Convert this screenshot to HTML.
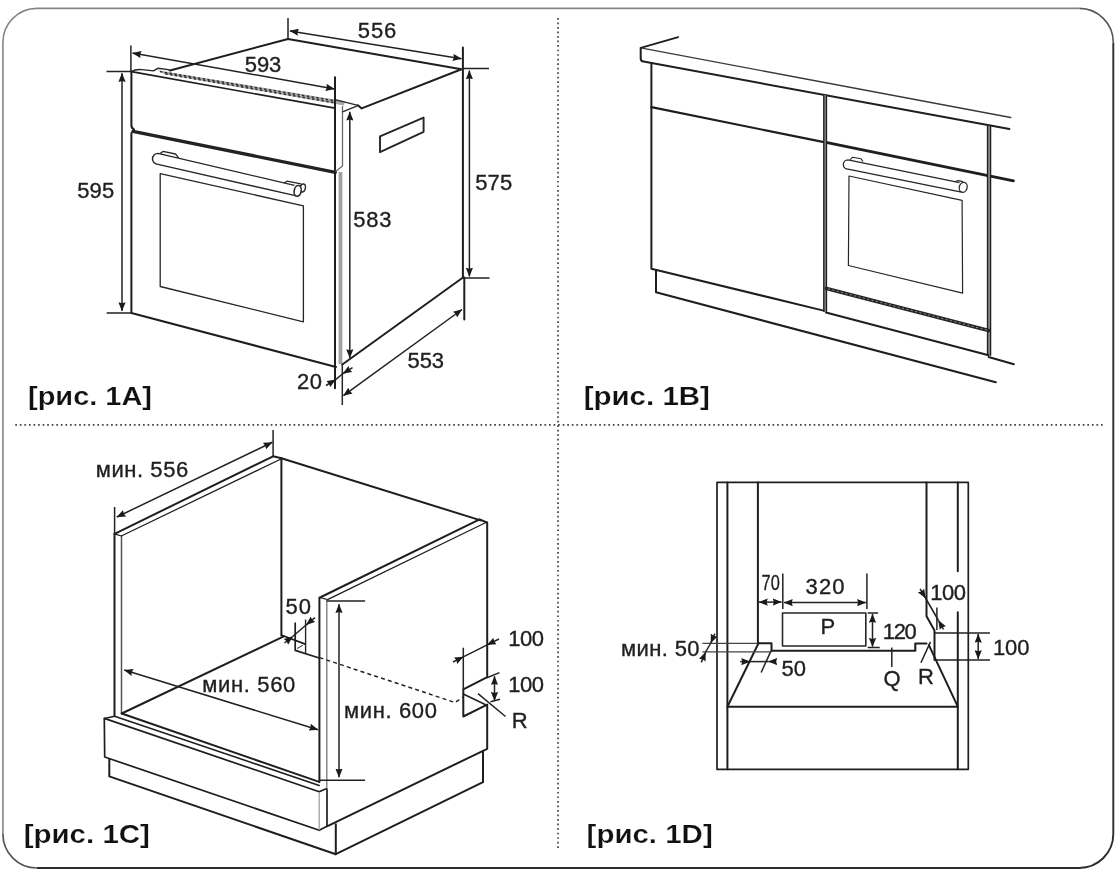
<!DOCTYPE html>
<html><head><meta charset="utf-8"><style>
html,body{margin:0;padding:0;background:#fff;width:1120px;height:872px;overflow:hidden}
svg{display:block;will-change:transform}
text{font-family:"Liberation Sans",sans-serif;fill:#1e1e1e}
.l{stroke:#1e1e1e;stroke-width:2.0;fill:none;stroke-linecap:round;stroke-linejoin:round}
.t{stroke:#262626;stroke-width:1.5;fill:none;stroke-linejoin:round}
.d{stroke:#222;stroke-width:1.5;fill:none}
.lab{font-weight:bold;font-size:26px;fill:#111;stroke:#fff;stroke-width:0.22px}
.n{font-size:22px;stroke:#222;stroke-width:0.35px}
</style></head><body>
<svg width="1120" height="872" viewBox="0 0 1120 872">
<defs>
<marker id="a" viewBox="0 0 9 7.4" refX="8.7" refY="3.7" markerWidth="9" markerHeight="7.4" markerUnits="userSpaceOnUse" orient="auto-start-reverse">
<path d="M0,0.1 L9,3.7 L0,7.3 L1.0,3.7 z" fill="#1a1a1a"/>
</marker>
<marker id="s" viewBox="0 0 6 5" refX="5.7" refY="2.5" markerWidth="6" markerHeight="5" markerUnits="userSpaceOnUse" orient="auto-start-reverse">
<path d="M0,0.2 L6,2.5 L0,4.8 L1,2.5 z" fill="#1e1e1e"/>
</marker>
</defs>
<!-- frame -->
<path d="M2.9,834 L2.9,42.4 A34,34 0 0 1 36.9,8.4 L1079.3,8.4" fill="none" stroke="#858585" stroke-width="1.6"/>
<path d="M1079.3,8.4 A34,34 0 0 1 1113.3,42.4" fill="none" stroke="#555" stroke-width="1.6"/>
<path d="M1113.3,42.4 L1113.3,834 A34,34 0 0 1 1079.3,868 L36.9,868" fill="none" stroke="#2d2d2d" stroke-width="1.9"/>
<path d="M36.9,868 A34,34 0 0 1 2.9,834" fill="none" stroke="#555" stroke-width="1.7"/>
<line x1="15.25" y1="424.8" x2="1103" y2="424.8" stroke="#444" stroke-width="1.7" stroke-dasharray="1.7 2.862"/>
<line x1="558" y1="17.95" x2="558" y2="848.5" stroke="#444" stroke-width="1.7" stroke-dasharray="1.7 2.826"/>
<!-- labels -->
<text class="lab" x="28" y="404.7" textLength="124" lengthAdjust="spacingAndGlyphs">[рис. 1A]</text>
<text class="lab" x="583.7" y="404.7" textLength="126.2" lengthAdjust="spacingAndGlyphs">[рис. 1B]</text>
<text class="lab" x="23.7" y="842.6" textLength="126.2" lengthAdjust="spacingAndGlyphs">[рис. 1C]</text>
<text class="lab" x="586.6" y="842.6" textLength="126.1" lengthAdjust="spacingAndGlyphs">[рис. 1D]</text>
<g id="f1a">
<!-- top surface -->
<path class="l" d="M170,70.5 L288,39 L461.5,69.2 L361.6,108.4 L358,105.3"/>
<!-- vent strip -->
<path style="stroke-width:1.4" class="t" d="M131.4,71.8 C134,69.8 138,69.3 142,69.6 L153.4,70.9 L157.9,68.3 L168,69.6 L170,70.5"/>
<path d="M157,70.3 L345,101.2 L344,105.6 L165,74.3 Z" fill="#a8a8a8"/>
<path style="stroke-width:1.3" class="t" d="M334,99.3 L358,105.3"/>
<path style="stroke-width:1.5;stroke:#2e2e2e" class="t" d="M160,71.6 L334.5,100.7" stroke-dasharray="2.4 2.4"/>
<path style="stroke-width:1.5;stroke:#2e2e2e" class="t" d="M163,73.4 L335.5,102.9" stroke-dasharray="2.4 2.4" stroke-dashoffset="2.4"/>
<!-- control panel -->
<path style="stroke-width:1.7" class="l" d="M131.4,71.6 L335,108.2"/>
<path class="l" d="M131.4,71.6 L131.4,125 Q131.4,128.5 134,129.5"/>
<path style="stroke-width:3.3;stroke:#222" class="l" d="M133,131.3 L335.3,172.3"/>
<!-- door -->
<path class="l" d="M131.4,133 L131.4,313 L336,367"/>
<path class="l" d="M335,77.3 L335,388.3"/>
<!-- side frame strip -->
<path style="stroke-width:1.3;stroke:#6a6a6a" class="t" d="M342.5,106 L342.5,166 L335.5,171.5"/>
<rect x="338.6" y="172" width="3.8" height="192" fill="#a0a0a0"/>
<path style="stroke-width:1.5" class="t" d="M342.3,364 L342.3,405"/>
<path style="stroke-width:1.3" class="t" d="M342.5,111.8 L358,105.7"/>
<!-- handle -->
<path style="stroke-width:1.4" class="t" d="M158,153.4 L294.5,185.4 M158,164.4 L296.5,195.9 M158,153.4 A5.5,5.5 0 0 0 158,164.4"/>
<path style="stroke-width:1.3" class="t" d="M160,153.6 L163,151.4 L175.5,154 L178.7,157.8"/>
<path style="stroke-width:1.2" class="t" d="M284,182.9 L287,181.2 L301,183.8"/>
<ellipse cx="302.8" cy="188" rx="2.6" ry="4" transform="rotate(10 302.8 188)" fill="#fff" stroke="#2a2a2a" stroke-width="1.4"/>
<ellipse cx="297.7" cy="190.9" rx="3.5" ry="5.4" transform="rotate(10 297.7 190.9)" fill="#fff" stroke="#2a2a2a" stroke-width="1.6"/>
<!-- window -->
<path style="stroke-width:1.3" class="t" d="M160.2,173.7 L303.4,205.8 L303.4,321.8 L160.2,286.5 Z"/>
<!-- side panel -->
<path class="l" d="M462.9,47.5 L462.9,277.5 M464.3,277.5 L464.3,319.4"/>
<path class="l" d="M463,277.5 L342.3,364.5"/>
<path style="stroke-width:1.9" class="t" d="M380,136.4 L423.6,117.6 L423.6,131.8 L380,152.2 Z"/>
<!-- 595 dim -->
<path class="d" d="M106.5,71.5 L131,71.5 M106.7,313 L131.9,313"/>
<path class="d" d="M122,73.2 L122,311" marker-start="url(#a)" marker-end="url(#a)"/>
<text class="n" x="77.2" y="197.5" textLength="37">595</text>
<!-- 593 dim -->
<path class="d" d="M130.9,45.6 L130.9,71.5"/>
<path class="d" d="M132.5,53 L334.5,88.9" marker-start="url(#a)" marker-end="url(#a)"/>
<text class="n" x="244.8" y="72" textLength="36.5">593</text>
<!-- 556 dim -->
<path class="d" d="M288,18.1 L288,39"/>
<path class="d" d="M289.8,30.9 L461.5,58.8" marker-start="url(#a)" marker-end="url(#a)"/>
<text class="n" x="357.8" y="37.5" textLength="38.5">556</text>
<!-- 575 dim -->
<path class="d" d="M463,68.4 L489,68.4 M463,278.1 L489.5,278.1"/>
<path class="d" d="M469.4,70.6 L469.4,276.4" marker-start="url(#a)" marker-end="url(#a)"/>
<text class="n" x="475.2" y="190.2" textLength="37">575</text>
<!-- 583 dim -->
<path class="d" d="M349.8,111.8 L349.8,358" marker-start="url(#a)" marker-end="url(#a)"/>
<text class="n" x="353.2" y="227.2" textLength="38.2">583</text>
<!-- 553 dim -->
<path class="d" d="M462,309.5 L343.4,395.6" marker-start="url(#a)" marker-end="url(#a)"/>
<text class="n" x="407.5" y="367.5" textLength="36.6">553</text>
<!-- 20 dim -->
<path class="d" d="M326,385.5 L335.6,379.6" marker-end="url(#a)"/>
<path class="d" d="M335.6,379.6 L343,373.5"/>
<path class="d" d="M352.5,367.7 L343,373.5" marker-end="url(#a)"/>
<text class="n" x="297" y="389" textLength="25">20</text>
</g>
<g id="f1b">
<!-- countertop -->
<path style="stroke-width:1.8" class="l" d="M678.2,37.1 L640.7,47.9"/>
<path style="stroke-width:1.4;stroke:#3a3a3a" class="l" d="M640.7,47.9 L1010.7,117.5"/>
<path class="l" d="M640.7,47.9 L640.7,58.5 Q640.7,61.2 643.5,61.6 L1009.4,129"/>
<!-- left cabinet -->
<path class="l" d="M651.4,63 L651.4,268.7 L824.6,310.9"/>
<path style="stroke-width:2.2" class="l" d="M651.4,107.1 L824,142.2"/>
<path style="stroke-width:2.8" class="l" d="M826,142.3 L1013.5,180.8"/>
<path class="l" d="M656,271 L656,292.3 L995.8,382.3"/>
<!-- dividers -->
<rect x="823.4" y="95" width="3.4" height="216" fill="#8a8a8a"/>
<path style="stroke-width:1.3" class="l" d="M823.8,95 L823.8,311.3 M826.5,95 L826.5,311.3"/>
<rect x="987.2" y="126" width="3.8" height="229" fill="#8a8a8a"/>
<path style="stroke-width:1.3" class="l" d="M987.5,126 L987.5,355.3 M990.6,126 L990.6,355.3"/>
<!-- oven -->
<path style="stroke-width:3.8;stroke:#262626" class="l" d="M826.5,288.5 L988.6,330.5" stroke-linecap="butt"/>
<path style="stroke-width:0.9;stroke:#9a9a9a" class="t" d="M828,288.9 L987,330.1" stroke-dasharray="2 2.5"/>
<path class="l" d="M826,312.5 L988.6,355.3"/>
<path class="l" d="M988.6,357 L1013.9,364.2"/>
<!-- handle -->
<path style="stroke-width:1.3" class="t" d="M848,159.9 L959.5,182.6 M848,169.2 L961.5,192.1 M848,159.9 A4.65,4.65 0 0 0 848,169.2"/>
<path style="stroke-width:1.1" class="t" d="M850,159.6 L852.5,157.3 L861,158.8 L863,161.5"/>
<path style="stroke-width:1.1" class="t" d="M955,181.8 L958,180.6 L963,181.6"/>
<ellipse cx="963.2" cy="187.3" rx="3.9" ry="5" transform="rotate(15 963.2 187.3)" fill="#fff" stroke="#262626" stroke-width="1.3"/>
<!-- window -->
<path style="stroke-width:1.2" class="t" d="M849,176 L962.1,200.4 L962.6,293.2 L848.4,265.5 Z"/>
</g>
<g id="f1c">
<!-- left wall -->
<path class="l" d="M114.5,533.8 L114.5,715.7"/>
<path style="stroke-width:1.5;stroke:#555" class="l" d="M121.5,536 L121.5,713.5"/>
<path class="l" d="M114.6,533.8 L273.1,456.3 L281.4,458.2"/>
<path style="stroke-width:1.25" class="l" d="M114.6,533.8 L121.3,536 L281,459"/>
<!-- back wall -->
<path class="l" d="M281.4,458.2 L281.4,635.4"/>
<path class="l" d="M281.4,458.2 L480.7,520.4"/>
<!-- right (front) wall -->
<path class="l" d="M320,597.5 L479.6,519.3 L486.8,522.5"/>
<path style="stroke-width:1.25" class="l" d="M320,597.5 L327.5,599.6 L486,522.5"/>
<path class="l" d="M319.4,597.7 L319.4,781.9"/>
<path style="stroke-width:1.3;stroke:#777" class="l" d="M326.8,600 L326.8,788.6"/>
<path class="l" d="M487.2,522.5 L487.2,677.1 L463.3,689.4 L463.3,716.5 L487.2,704.6 L487.2,748.8 L327,826.3"/>
<path style="stroke-width:1.5" class="l" d="M463.3,694 L487.2,705.5"/>
<!-- floor -->
<path class="l" d="M121.7,713.5 L283.8,636.4"/>
<path style="stroke-width:1.7" class="l" d="M281.7,635.2 L305.3,644.1"/>
<path style="stroke-width:1.7" class="l" d="M295.2,623.2 L295.2,650.4 L319.2,658"/>
<path style="stroke-width:1.4" class="t" d="M305.6,619.5 L305.6,652.9"/>
<path style="stroke-width:1" class="t" d="M297.1,648.5 L302.8,645.3"/>
<path class="l" d="M121.7,713.5 L319.2,781.9"/>
<!-- front board -->
<path style="stroke-width:1.5" class="l" d="M114.6,716.2 L319.2,785.5"/>
<path style="stroke-width:1.5" class="l" d="M104.3,718.4 L114.6,716.2"/>
<path style="stroke-width:1.7" class="l" d="M104.3,718.4 L319.2,791.7 L325.5,789 Q327,788.6 327,790 L327,826.3 L319.2,830.3 L104.7,757 L104.3,718.4"/>
<path style="stroke-width:1.2;stroke:#999" class="t" d="M319.2,792 L319.2,830"/>
<!-- plinth -->
<path class="l" d="M109.3,759 L109.3,776.4 L335.8,854.2 L483,782.2 L483,751.3"/>
<path class="l" d="M335.8,824.2 L335.8,854.2"/>
<!-- dims -->
<path class="d" d="M114.6,507 L114.6,533.8 M273.1,430 L273.1,456.3"/>
<path class="d" d="M116.8,517 L272.3,442.3" marker-start="url(#a)" marker-end="url(#a)"/>
<text class="n" x="95.7" y="476.8" textLength="92.5">мин. 556</text>
<path class="d" d="M124.3,670 L318,729.7" marker-start="url(#a)" marker-end="url(#a)"/>
<text class="n" x="202.3" y="692.3" textLength="93">мин. 560</text>
<path class="d" d="M326.6,600.9 L365.1,600.9 M319.4,780.3 L365.1,780.3"/>
<path class="d" d="M339,604.2 L339,777.3" marker-start="url(#a)" marker-end="url(#a)"/>
<text class="n" x="344" y="718.2" textLength="93">мин. 600</text>
<!-- 50 -->
<path class="d" d="M284.5,643 L292.7,636.5" marker-end="url(#a)"/>
<path class="d" d="M292.7,636.5 L306.3,624.8"/>
<path class="d" d="M315,617.6 L306.3,624.8" marker-end="url(#a)"/>
<text class="n" x="285.5" y="614.4" textLength="25.5">50</text>
<!-- dashed -->
<path class="d" d="M319.5,657.6 L455,702.5 L463,697" stroke-dasharray="4 3.2"/>
<!-- 100 dims right -->
<path class="d" d="M463.3,647.7 L463.3,689.4"/>
<path class="d" d="M453,662 L463.3,656.8" marker-end="url(#a)"/>
<path class="d" d="M463.3,656.8 L487.2,644.8"/>
<path class="d" d="M499,639 L487.2,644.8" marker-end="url(#a)"/>
<text class="n" x="508.2" y="645.8" textLength="35.8">100</text>
<path class="d" d="M486.9,677.8 L499.5,672.6 M490.5,701.8 L500,699.2"/>
<path class="d" d="M494.5,676.2 L494.5,700.6" marker-start="url(#a)" marker-end="url(#a)"/>
<text class="n" x="508.2" y="691.6" textLength="35.8">100</text>
<path class="d" d="M478,693.6 L505.5,716.5"/>
<text class="n" x="511.8" y="728.3" textLength="16">R</text>
</g>
<g id="f1d">
<!-- outer -->
<path style="stroke-width:1.7" class="l" d="M717,482.4 L968.3,482.4 L968.3,769.3 L717,769.3 Z"/>
<path class="l" d="M727.4,482.4 L727.4,769.3"/>
<path class="l" d="M957.8,482.4 L957.8,571.2 M957.8,612.2 L957.8,769.3"/>
<!-- inner walls -->
<path class="l" d="M757.9,482.4 L757.9,643.3 L771.5,643.3 L771.5,650.8"/>
<path class="l" d="M926.5,482.4 L926.5,616.2 L934.5,630.6 L934.5,659.9"/>
<!-- floor -->
<path style="stroke-width:2.1" class="l" d="M771.5,650.8 L915.3,650.8 L915.3,643.5 L926.5,643.5"/>
<!-- trapezoid -->
<path class="l" d="M758.6,643 L727.4,706.7 L957.8,706.7 L928.9,645.1"/>
<!-- min 50 left -->
<path style="stroke-width:1.15;stroke:#444" class="d" d="M702.4,643.3 L757.9,643.3 M702.4,651.9 L771.5,651.9"/>
<path class="d" d="M714.8,633.6 L710.8,643" marker-end="url(#a)"/>
<path class="d" d="M701.3,662.4 L705.6,652.2" marker-end="url(#a)"/>
<path class="d" d="M710.8,643 L705.6,652.2"/>
<text class="n" x="621" y="656.2" textLength="78.5">мин. 50</text>
<!-- 50 -->
<path class="d" d="M770.7,651.6 L761.1,672.5"/>
<path class="d" d="M740.2,661.6 L750,661.6" marker-end="url(#a)"/>
<path class="d" d="M750,661.6 L768.5,661.6"/>
<path class="d" d="M776,661.6 L768.5,661.6" marker-end="url(#a)"/>
<text class="n" x="781.5" y="676.3" textLength="24.5">50</text>
<!-- 70 / 320 -->
<path class="d" d="M782.8,573.6 L782.8,609 M866.9,573.6 L866.9,609"/>
<path class="d" d="M759,602.1 L781.5,602.1" marker-start="url(#a)" marker-end="url(#a)"/>
<path class="d" d="M784,602.6 L865.8,602.6" marker-start="url(#a)" marker-end="url(#a)"/>
<text class="n" x="761.6" y="590.4" textLength="18.2" lengthAdjust="spacingAndGlyphs">70</text>
<text class="n" x="805.6" y="594" textLength="39">320</text>
<!-- P -->
<path style="stroke-width:1.6" class="t" d="M782.5,613 L865.8,613 L865.8,646 L782.5,646 Z"/>
<text class="n" x="820.6" y="633.8" textLength="14.5">P</text>
<!-- 120 -->
<path class="d" d="M867.7,613 L878.1,613 M867.7,647.6 L879.7,647.6"/>
<path class="d" d="M872.5,614 L872.5,646.6" marker-start="url(#a)" marker-end="url(#a)"/>
<text class="n" x="882.8" y="639" textLength="34">120</text>
<!-- Q -->
<path class="d" d="M891.8,647.6 L891.8,666.9"/>
<text class="n" x="883.4" y="686" textLength="16.5">Q</text>
<!-- R -->
<path class="d" d="M920.9,662.7 L930.5,641.9"/>
<text class="n" x="918.1" y="683.7" textLength="14.5">R</text>
<!-- right 100 -->
<path class="d" d="M934.5,633 L989.9,633 M934.5,659.9 L989.9,659.9"/>
<path class="d" d="M978.2,634 L978.2,658.9" marker-start="url(#a)" marker-end="url(#a)"/>
<text class="n" x="992.9" y="655.4" textLength="36.5">100</text>
<!-- diag 100 -->
<path class="d" d="M936.9,607.4 L936.9,630"/>
<path class="d" d="M920.1,588.9 L925.5,598" marker-end="url(#a)"/>
<path class="d" d="M925.5,598 L938.5,620.5"/>
<path class="d" d="M943.5,629.3 L938.5,620.5" marker-end="url(#a)"/>
<text class="n" x="930.3" y="600" textLength="35.7">100</text>
</g>
</svg>
</body></html>
